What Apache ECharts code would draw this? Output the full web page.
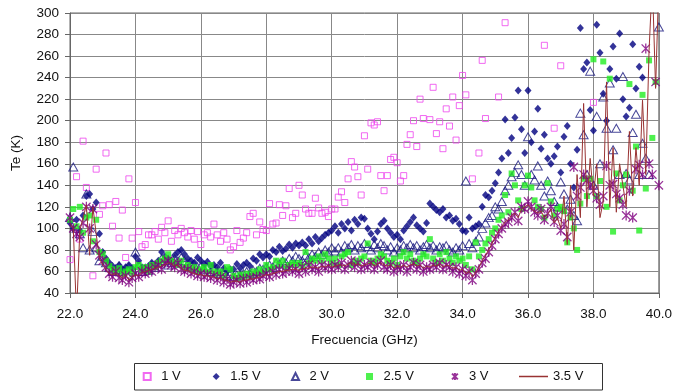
<!DOCTYPE html>
<html style="height: 100%">
<head>
    <meta charset="utf-8">
    <title>Te vs Frecuencia</title>
    <script src="https://cdn.jsdelivr.net/npm/echarts@6/dist/echarts.min.js"></script>
    <style>
        html, body { margin: 0; padding: 0; background: #fff; }
        #container { width: 675px; height: 391px; }
    </style>
</head>
<body>
<div id="container"></div>
<script>
    // frecuencias (GHz), paso 0.1
    var freq = [
        22.0, 22.1, 22.2, 22.3, 22.4, 22.5, 22.6, 22.7, 22.8, 22.9,
        23.0, 23.1, 23.2, 23.3, 23.4, 23.5, 23.6, 23.7, 23.8, 23.9,
        24.0, 24.1, 24.2, 24.3, 24.4, 24.5, 24.6, 24.7, 24.8, 24.9,
        25.0, 25.1, 25.2, 25.3, 25.4, 25.5, 25.6, 25.7, 25.8, 25.9,
        26.0, 26.1, 26.2, 26.3, 26.4, 26.5, 26.6, 26.7, 26.8, 26.9,
        27.0, 27.1, 27.2, 27.3, 27.4, 27.5, 27.6, 27.7, 27.8, 27.9,
        28.0, 28.1, 28.2, 28.3, 28.4, 28.5, 28.6, 28.7, 28.8, 28.9,
        29.0, 29.1, 29.2, 29.3, 29.4, 29.5, 29.6, 29.7, 29.8, 29.9,
        30.0, 30.1, 30.2, 30.3, 30.4, 30.5, 30.6, 30.7, 30.8, 30.9,
        31.0, 31.1, 31.2, 31.3, 31.4, 31.5, 31.6, 31.7, 31.8, 31.9,
        32.0, 32.1, 32.2, 32.3, 32.4, 32.5, 32.6, 32.7, 32.8, 32.9,
        33.0, 33.1, 33.2, 33.3, 33.4, 33.5, 33.6, 33.7, 33.8, 33.9,
        34.0, 34.1, 34.2, 34.3, 34.4, 34.5, 34.6, 34.7, 34.8, 34.9,
        35.0, 35.1, 35.2, 35.3, 35.4, 35.5, 35.6, 35.7, 35.8, 35.9,
        36.0, 36.1, 36.2, 36.3, 36.4, 36.5, 36.6, 36.7, 36.8, 36.9,
        37.0, 37.1, 37.2, 37.3, 37.4, 37.5, 37.6, 37.7, 37.8, 37.9,
        38.0, 38.1, 38.2, 38.3, 38.4, 38.5, 38.6, 38.7, 38.8, 38.9,
        39.0, 39.1, 39.2, 39.3, 39.4, 39.5, 39.6, 39.7, 39.8, 39.9,
        40.0
    ];

    // Te (K) por tension de polarizacion
    var te1V = [
        71, null, 148, 90, 181, 138, null, 56, 155, 113,
        121, 170, 122, 102, 125, 91, 117, 73, 146, 91,
        124, 97, 83, 85, 94, 94, 97, 90, 101, 96,
        107, 88, 98, 94, 100, 96, 92, 98, 90, 97,
        85, 94, 96, 92, 104, 94, 88, 96, 90, 80,
        83, 98, 87, 91, 96, 111, 114, 94, 106, 99,
        98, 123, 104, 105, 122, 112, 121, 137, 110, 114,
        140, 131, 118, 114, 114, 128, 119, 114, 115, 111,
        118, 118, 129, 134, 124, 146, 162, 157, 148, 131,
        186, 155, 198, 196, 199, 149, 135, 149, 164, 166,
        161, 144, 149, 178, 187, 200, 176, 220, 202, null,
        201, 231, 188, 199, 174, 211, 195, 222, 182, 214,
        242, 224, null, 146, null, 170, 256, 202, null, null,
        null, 222, null, 291, null, null, null, null, null, null,
        null, null, null, null, null, 270, null, null, 193, null,
        251, null, null, null, null, null, null, null, null, null,
        217, null, null, null, null, null, null, null, null, null,
        null, null, null, null, null, null, null, null, null, null,
        null
    ];
    var te15V = [
        105, 100, 108, 98, 112, 130, 132, 118, 124, 95,
        78, 72, 68, 65, 63, 66, 62, 64, 66, 63,
        74, 70, 64, 62, 65, 68, 66, 70, 78, 74,
        72, 70, 75, 78, 80, 76, 72, 70, 68, 73,
        70, 67, 69, 65, 66, 64, 68, 63, 60, 62,
        62, 67, 63, 66, 68, 65, 72, 70, 76, 73,
        76, 74, 80, 78, 83, 79, 81, 85, 82, 86,
        84, 87, 84, 90, 86, 92, 88, 91, 94, 96,
        98, 102, 96, 104, 100, 106, 98, 108, 104, 110,
        109, 100, 95, 90, 97, 104, 107, 100, 96, 92,
        94, 90, 98, 102, 106, 110, 103, 100, 97, 105,
        123, 120, 117, 115, 118, 110, 112, 107, 109, 104,
        98, 97, 110, 100, 102, 104, 120, 131, 129, 135,
        142, 152, 165, 201, 170, 184, 203, 228, 192, 170,
        228, 180, 190, 211, 174, 187, 165, 160, 167, 176,
        152, 185, 195, 160, 138, 173, 286, 248, 254, 210,
        191, 289, 263, 225, 200, 248, 269, 239, 281, 220,
        204, 212, 271, 230, 250, 240, null, null, null, null,
        null
    ];
    var te2V = [
        110, 157, 100, 95, 82, 132, 80, 97, 82, 70,
        74, 68, 64, 60, 62, 65, 60, 62, 64, 62,
        78, 66, 60, 63, 61, 66, 64, 68, 72, 70,
        66, 68, 72, 70, 73, 70, 67, 65, 66, 64,
        65, 62, 64, 60, 62, 60, 58, 60, 56, 58,
        55, 57, 56, 58, 60, 58, 61, 60, 63, 62,
        64, 66, 64, 68, 67, 70, 68, 72, 70, 74,
        72, 70, 75, 73, 76, 74, 78, 76, 80, 78,
        82, 79, 82, 78, 84, 82, 85, 80, 84, 82,
        86, 83, 80, 85, 82, 86, 84, 80, 83, 78,
        82, 80, 84, 82, 85, 82, 84, 80, 83, 85,
        82, 84, 80, 83, 82, 84, 80, 78, 82, 80,
        84, 144, 86, 82, 88, 92, 100, 105, 110, 112,
        120, 118, 125, 135, 140, 148, 152, 159, 150, 140,
        185, 150, 145, 158, 140, 130, 144, 135, 125, 120,
        143, 132, 118, 127, 112, 107, 207, 187, 150, 246,
        140, 204, 160, 222, 193, 235, 173, 193, 150, 241,
        151, 145, 189, 206, 150, 179, 165, 150, null, null,
        287
    ];
    var te25V = [
        108, 118, 102, 120, 96, 110, 112, 88, 108, 78,
        76, 70, 65, 62, 60, 63, 58, 60, 62, 58,
        64, 66, 62, 64, 60, 66, 64, 68, 70, 72,
        76, 70, 68, 66, 70, 64, 66, 62, 64, 60,
        62, 64, 60, 66, 60, 58, 60, 56, 64, 62,
        56, 54, 57, 55, 58, 56, 60, 58, 62, 60,
        66, 62, 64, 70, 66, 70, 64, 66, 68, 66,
        68, 65, 78, 68, 72, 70, 74, 70, 76, 72,
        68, 72, 66, 74, 76, 78, 66, 70, 68, 72,
        74, 86, 70, 68, 72, 76, 74, 70, 68, 72,
        66, 74, 78, 72, 76, 70, 68, 72, 76, 74,
        90, 72, 68, 76, 70, 78, 72, 68, 74, 70,
        72, 66, 74, 62, 87, 74, 80, 86, 90, 96,
        100, 108, 112, 131, 115, 151, 140, 126, 118, 140,
        149, 138, 126, 120, 118, 110, 142, 125, 112, 118,
        120, 116, 87, 110, 100, 80, 123, 146, 130, 146,
        257, 130, 144, 255, 120, 239, 97, 151, 126, 140,
        150, 234, 135, 176, 98, 224, 137, 256, 184, 236,
        null
    ];
    var te3V = [
        110, 100, 95, 92, 105, 120, 100, 118, 85, 75,
        70, 64, 58, 55, 60, 54, 52, 56, 50, 54,
        58, 55, 60, 58, 62, 60, 64, 66, 62, 68,
        70, 66, 64, 68, 62, 60, 62, 58, 60, 56,
        58, 55, 57, 54, 56, 52, 55, 50, 53, 48,
        50, 52, 49, 53, 50, 54, 52, 55, 53, 56,
        58, 55, 60, 57, 62, 58, 60, 63, 60, 62,
        58, 64, 60, 66, 62, 64, 60, 66, 63, 65,
        62, 66, 64, 68, 62, 66, 70, 64, 68, 62,
        66, 64, 68, 62, 66, 70, 64, 62, 66, 60,
        64, 62, 66, 60, 64, 68, 62, 66, 60, 64,
        62, 66, 64, 68, 62, 66, 64, 60, 64, 58,
        62, 56, 60, 52, 58, 62, 68, 72, 78, 84,
        90, 95, 100, 104, 106, 110, 115, 107, 120, 118,
        125, 120, 115, 112, 118, 108, 114, 120, 106, 112,
        98, 104, 92, 115, 157, 130, 138, 150, 145, 140,
        135, 128, 122, 130, 158, 140, 141, 132, 128, 122,
        112, 135, 110, 155, 159, 150, 267, 160, 150, 236,
        140
    ];
    var te35V = [
        105, 100, 20, 98, 110, 122, 75, 120, 95, 72,
        66, 62, 58, 57, 58, 56, 54, 57, 52, 55,
        57, 56, 59, 60, 61, 62, 63, 64, 65, 66,
        68, 67, 65, 66, 63, 61, 61, 59, 58, 57,
        57, 56, 56, 55, 55, 53, 54, 52, 52, 50,
        51, 51, 50, 52, 52, 53, 53, 54, 55, 56,
        57, 57, 58, 59, 60, 60, 61, 61, 62, 62,
        61, 62, 63, 63, 64, 64, 63, 65, 64, 66,
        64, 65, 66, 66, 65, 67, 68, 66, 67, 65,
        66, 67, 68, 65, 67, 68, 66, 65, 66, 63,
        65, 64, 66, 64, 66, 67, 65, 66, 63, 65,
        64, 66, 65, 67, 64, 66, 65, 63, 64, 61,
        62, 58, 60, 55, 59, 64, 70, 75, 80, 86,
        92, 97, 102, 106, 108, 112, 114, 110, 118, 120,
        122, 118, 116, 114, 116, 110, 113, 118, 105, 110,
        100, 130, 85, 140, 80, 150, 110, 216, 120, 165,
        130, 160, 110, 125, 236, 120, 175, 115, 160, 140,
        120, 190, 130, 175, 140, 219, 150, 265, 330, 230,
        330
    ];

    var seriesNames = ['1 V', '1.5 V', '2 V', '2.5 V', '3 V', '3.5 V'];
    var yTicks = { min: 40, max: 300, step: 20 };
    var xTicks = { min: 22, max: 40, step: 2 };

    function pairs(arr) {
        var out = [];
        for (var i = 0; i < freq.length; i++) {
            if (arr[i] != null) out.push([freq[i], arr[i]]);
        }
        return out;
    }
    function linePairs(arr) {
        var out = [];
        for (var i = 0; i < freq.length; i++) out.push([freq[i], arr[i]]);
        return out;
    }

    var font = 'Liberation Sans, Arial, sans-serif';
    var symSquare = 'path://M0,0L10,0L10,10L0,10Z';
    var symDiamond = 'path://M5,0L10,5L5,10L0,5Z';
    var symTriangle = 'path://M5,0L10,10L0,10Z';
    var symAsterisk = 'path://M0,0L10,10M10,0L0,10M5,-1L5,11';

    // una leyenda por elemento, para colocar cada uno como en el original
    var legendLeft = [142.7, 212.7, 291, 366, 451, 519];
    var legends = seriesNames.map(function (n, i) {
        var isLine = i === 5;
        var l = {
            left: legendLeft[i], top: 370, padding: 0,
            itemWidth: isLine ? 29 : 18, itemHeight: isLine ? 1.5 : 7,
            textStyle: { fontSize: 13, color: '#111', fontFamily: font },
            data: [isLine ? { name: n, icon: 'rect' } : n]
        };
        if (isLine) l.itemGap = 0;
        return l;
    });

    var myChart = echarts.init(document.getElementById('container'));
    var option = {
        animation: false,
        backgroundColor: '#fff',
        textStyle: { fontFamily: font },
        grid: {
            left: 70, right: 15, top: 13, bottom: 98,
            show: true, borderColor: '#666', borderWidth: 1, backgroundColor: '#fff'
        },
        graphic: [{
            type: 'rect',
            shape: { x: 134.5, y: 363.5, width: 468, height: 26.5 },
            style: { fill: 'none', stroke: '#333', lineWidth: 1 },
            z: 0
        }],
        legend: legends,
        xAxis: {
            type: 'value',
            min: xTicks.min, max: xTicks.max, interval: xTicks.step,
            name: 'Frecuencia (GHz)',
            nameLocation: 'middle', nameGap: 40,
            nameTextStyle: { fontSize: 13.5, color: '#111', fontFamily: font },
            axisLine: { lineStyle: { color: '#666' } },
            axisTick: { length: 5, lineStyle: { color: '#666' } },
            axisLabel: {
                fontSize: 13.5, color: '#111', margin: 14,
                formatter: function (v) { return v.toFixed(1); }
            },
            splitLine: { show: true, lineStyle: { color: '#888', width: 1 } }
        },
        yAxis: {
            type: 'value',
            min: yTicks.min, max: yTicks.max, interval: yTicks.step,
            name: 'Te (K)',
            nameLocation: 'middle', nameGap: 47, nameRotate: 90,
            nameTextStyle: { fontSize: 13.5, color: '#111', fontFamily: font },
            axisLine: { show: true, lineStyle: { color: '#666' } },
            axisTick: { show: true, length: 5, lineStyle: { color: '#666' } },
            axisLabel: { fontSize: 13.5, color: '#111', margin: 11 },
            splitLine: { show: true, lineStyle: { color: '#888', width: 1 } }
        },
        series: [
            {
                name: seriesNames[0], type: 'scatter', data: pairs(te1V),
                symbol: symSquare, symbolSize: 6, symbolKeepAspect: true,
                itemStyle: { color: 'rgba(255,255,255,0)', borderColor: '#ee44ee', borderWidth: 1 }
            },
            {
                name: seriesNames[1], type: 'scatter', data: pairs(te15V),
                symbol: symDiamond, symbolSize: [7, 8], symbolKeepAspect: true,
                itemStyle: { color: '#000080' }
            },
            {
                name: seriesNames[2], type: 'scatter', data: pairs(te2V),
                symbol: symTriangle, symbolSize: [9, 8], symbolKeepAspect: true,
                itemStyle: { color: 'rgba(255,255,255,0)', borderColor: '#1a1a80', borderWidth: 1 }
            },
            {
                name: seriesNames[3], type: 'scatter', data: pairs(te25V),
                symbol: symSquare, symbolSize: 6, symbolKeepAspect: true,
                itemStyle: { color: '#22ee22' }
            },
            {
                name: seriesNames[4], type: 'scatter', data: pairs(te3V),
                symbol: symAsterisk, symbolSize: 10, symbolKeepAspect: true,
                itemStyle: { color: 'rgba(0,0,0,0)', borderColor: '#800080', borderWidth: 1.3 }
            },
            {
                name: seriesNames[5], type: 'line', data: linePairs(te35V),
                symbol: 'none', showSymbol: false, clip: true,
                lineStyle: { color: '#993333', width: 1 },
                itemStyle: { color: '#993333' }
            }
        ]
    };
    myChart.setOption(option);
</script>
</body>
</html>
